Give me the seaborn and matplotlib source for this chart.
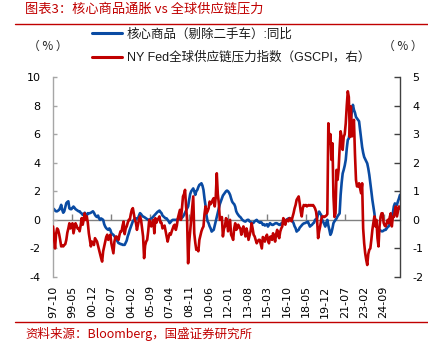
import numpy as np
import pandas as pd
import matplotlib
matplotlib.use("Agg")
import matplotlib.pyplot as plt
from matplotlib.lines import Line2D
import seaborn as sns

# ---------------- data (monthly, starting 1997-10) ----------------
core_goods = [
    0.8, 0.75, 0.65, 0.6, 0.6, 0.65, 0.7, 0.85, 1.05, 0.7, 0.5, 0.6,
    0.9, 1.17, 1.25, 1.3, 0.8, 0.75, 0.75, 0.85, 0.93, 0.85, 0.75, 0.7,
    0.65, 0.6, 0.6, 0.5, 0.45, 0.35, 0.4, 0.5, 0.1, 0.3, 0.47, 0.45,
    0.47, 0.5, 0.55, 0.6, 0.5, 0.35, 0.25, 0.2, 0.3, 0.1, 0.0, 0.1,
    0.05, 0.0, -0.3, -0.47, -0.58, -0.65, -0.7, -0.6, -0.7, -0.93, -1.0, -1.05,
    -1.15, -1.25, -1.4, -1.5, -1.63, -1.65, -1.7, -1.7, -1.75, -1.75, -1.75, -1.6,
    -1.45, -1.15, -0.95, -0.7, -0.5, -0.3, -0.1, 0.0, 0.1, 0.05, 0.1, 0.1,
    0.3, 0.47, 0.4, 0.3, 0.23, 0.2, 0.15, 0.1, 0.05, 0.0, 0.0, 0.05,
    0.1, 0.15, 0.23, 0.3, 0.4, 0.47, 0.55, 0.6, 0.65, 0.55, 0.47, 0.3,
    0.23, 0.15, 0.1, 0.1, 0.0, -0.1, -0.23, -0.15, -0.05, 0.0, 0.0, 0.0,
    0.0, 0.0, 0.05, 0.05, 0.05, 0.1, 0.15, 0.23, 0.35, 0.5, 0.65, 0.8,
    0.93, 1.4, 1.8, 2.0, 2.1, 2.2, 2.0, 1.75, 2.0, 2.1, 2.3, 2.45,
    2.5, 2.56, 2.4, 2.1, 1.5, 1.0, 0.3, -0.1, -0.23, -0.45, -0.6, -0.82,
    -0.75, -0.7, -0.4, -0.1, 0.23, 0.5, 0.8, 1.1, 1.3, 1.5, 1.7, 1.8,
    1.9, 2.0, 2.05, 2.0, 1.9, 1.75, 1.5, 1.28, 1.17, 1.1, 0.93, 0.6,
    0.45, 0.35, 0.25, 0.2, 0.1, 0.0, -0.05, -0.1, -0.12, -0.05, 0.0, 0.0,
    -0.1, -0.15, -0.2, -0.23, -0.2, -0.1, -0.05, 0.0, -0.1, -0.15, -0.2, -0.15,
    -0.2, -0.35, -0.3, -0.4, -0.35, -0.3, -0.47, -0.35, -0.23, -0.3, -0.35, -0.35,
    -0.3, -0.25, -0.23, -0.25, -0.3, -0.35, -0.35, -0.25, -0.2, -0.12, -0.1, -0.05,
    0.0, 0.05, 0.1, 0.12, 0.1, 0.0, -0.1, -0.23, -0.45, -0.58, -0.82, -0.75,
    -0.7, -0.55, -0.47, -0.4, -0.3, -0.25, -0.23, -0.2, -0.15, -0.12, -0.3, -0.47,
    -0.4, -0.35, -0.25, -0.2, 0.0, 0.05, 0.12, 0.4, 0.58, 0.45, 0.35, 0.0,
    -0.15, -0.3, -0.47, -0.2, 0.0, -0.4, -0.7, -1.05, -0.9, -0.6, -0.23, -0.1,
    0.0, 0.1, 0.25, 0.35, 0.45, 1.75, 2.6, 3.25, 3.5, 3.8, 4.2, 5.0,
    5.6, 5.7, 6.2, 7.0, 7.6, 8.05, 7.7, 7.5, 7.2, 7.1, 7.0, 6.9,
    6.3, 5.7, 5.1, 4.7, 4.4, 4.25, 4.1, 3.95, 3.6, 3.15, 2.6, 2.0,
    1.4, 0.9, 0.45, -0.25, -0.45, -0.6, -0.65, -0.7, -0.75, -0.8, -0.8, -0.75,
    -0.7, -0.7, -0.6, -0.5, -0.45, -0.3, -0.15, 0.0, 0.5, 0.95, 1.15, 1.1,
    1.05, 1.3, 1.5, 1.75,
]

gscpi = [
    -0.23, -0.6, -1.0, -0.5, -0.3, -0.35, -0.5, -0.7, -0.93, -0.9, -0.93, -0.88,
    -0.85, -0.7, -0.45, -0.3, -0.12, -0.3, -0.2, -0.12, -0.47, -0.3, -0.12, -0.2,
    -0.3, -0.3, -0.4, -0.2, 0.06, -0.17, 0.0, 0.23, 0.0, 0.12, -0.1, -0.47,
    -0.7, -0.93, -0.76, -0.8, -0.88, -0.64, -0.7, -0.76, -0.9, -1.05, -1.2, -1.34,
    -1.46, -1.1, -0.93, -0.76, -0.6, -0.52, -0.7, -0.6, -0.52, -0.82, -1.0, -1.17,
    -0.76, -0.6, -0.58, -0.65, -0.7, -0.52, -0.4, -0.4, -0.2, -0.06, -0.5, -0.3,
    -0.23, -0.1, 0.0, 0.0, 0.2, 0.35, 0.41, 0.2, 0.0, -0.1, -0.35, -0.17,
    0.0, 0.12, 0.0, -0.3, -0.58, -1.34, -0.9, -0.76, -0.7, -0.4, 0.0, -0.1,
    -0.23, -0.1, 0.0, -0.47, 0.06, -0.1, 0.0, 0.05, 0.12, -0.1, -0.1, -0.3,
    -0.25, -0.2, -0.4, -0.58, -0.76, -0.6, -0.47, -0.52, -0.4, -0.3, -0.2, -0.17,
    -0.35, -0.2, 0.06, 0.2, 0.35, 0.0, 0.4, 0.82, 0.9, 1.05, 0.47, 0.0,
    -1.52, -0.8, -0.4, 0.0, 0.4, 0.82, -0.47, -0.8, -1.05, -1.0, -1.1, -0.7,
    -0.55, -0.4, -0.3, -0.23, 0.2, 0.47, 0.23, 0.3, 0.4, 0.64, 0.55, 0.6,
    0.7, 0.76, 0.47, 0.8, 1.63, 0.9, 0.58, 0.0, 0.05, 0.1, -0.58, -0.3,
    -0.23, 0.06, 0.0, -0.4, -0.2, 0.0, -0.52, -0.6, -0.7, -0.3, -0.12, -0.35,
    -0.3, -0.17, -0.25, -0.3, -0.52, -0.35, -0.23, -0.4, -0.58, -0.3, -0.45, -0.7,
    -0.55, -0.4, -0.12, -0.3, -0.52, -0.58, -0.7, -0.82, -0.75, -0.7, -0.7, -0.85,
    -1.0, -0.6, -0.65, -0.76, -0.6, -0.52, -0.7, -0.82, -0.6, -0.58, -0.7, -0.47,
    -0.6, -0.76, -0.5, -0.35, -0.55, -0.64, -0.41, -0.3, -0.23, 0.06, -0.1, -0.17,
    0.0, 0.0, -0.05, 0.06, 0.0, -0.05, 0.1, 0.23, 0.4, 0.52, 0.7, 0.76,
    0.82, 0.58, 0.3, 0.12, 0.4, 0.52, 0.5, 0.52, 0.47, 0.5, 0.52, 0.5,
    0.52, 0.5, 0.52, 0.47, 0.4, 0.29, 0.0, -0.64, -0.4, -0.23, 0.0, 0.12,
    0.12, 0.1, 0.12, 0.15, 0.2, 3.38, 2.68, 3.0, 2.1, 2.68, 0.82, 0.1,
    0.23, 1.75, 1.4, 1.75, 2.5, 3.1, 2.9, 2.45, 2.9, 3.0, 3.38, 4.0,
    4.5, 4.3, 2.9, 3.97, 2.92, 3.3, 3.5, 2.3, 1.4, 1.17, 1.17, 1.28,
    1.1, 0.93, 1.28, -0.3, -0.82, -1.17, -1.4, -1.58, -1.2, -1.05, -1.0, -0.7,
    -0.35, -0.1, 0.12, -0.23, 0.0, -0.64, -0.93, -0.23, 0.1, 0.23, 0.23, -0.1,
    -0.2, -0.23, -0.12, 0.0, -0.12, 0.1, 0.23, -0.23, 0.1, 0.1, 0.3, 0.47,
    0.12, 0.3, 0.47, 0.41,
]

tick_labels = ["97-10", "99-05", "00-12", "02-07", "04-02", "05-09", "07-04",
               "08-11", "10-06", "12-01", "13-08", "15-03", "16-10", "18-05",
               "19-12", "21-07", "23-02", "24-09"]

left_ticks = [-4, -2, 0, 2, 4, 6, 8, 10]
right_ticks = [-2, -1, 0, 1, 2, 3, 4, 5]

series_names = ["核心商品（剔除二手车）:同比", "NY Fed全球供应链压力指数（GSCPI，右）"]
title_text = "图表3：核心商品通胀 vs 全球供应链压力"
source_text = "资料来源：Bloomberg，国盛证券研究所"
unit_text = "（ % ）"

# ---------------- build ----------------
dates = pd.date_range("1997-10-01", periods=len(core_goods), freq="MS")
df = pd.DataFrame({"idx": np.arange(len(dates)), "core": core_goods, "gscpi": gscpi})
label_dates = pd.to_datetime([("19" if t[0] == "9" else "20") + t for t in tick_labels],
                             format="%Y-%m")
tick_pos = dates.get_indexer(label_dates)

BLUE = "#0A4BA3"
RED = "#C00000"
GREY = "#A6A6A6"

sns.set_theme(style="white")
plt.rcParams["font.family"] = ["DejaVu Sans", "Noto Sans CJK SC"]
plt.rcParams["axes.unicode_minus"] = False

fig = plt.figure(figsize=(4.28, 3.46), dpi=100)
ax = fig.add_axes([53 / 428, 1 - 277 / 346, (400 - 53) / 428, 200 / 346])

sns.lineplot(data=df, x="idx", y="core", ax=ax, color=BLUE, linewidth=1.9,
             label=series_names[0], legend=False)
ax2 = ax.twinx()
sns.lineplot(data=df, x="idx", y="gscpi", ax=ax2, color=RED, linewidth=1.9,
             label=series_names[1], legend=False)

ymin, ymax = left_ticks[0], left_ticks[-1]
ax.set_ylim(ymin, ymax)
ax2.set_ylim(right_ticks[0], right_ticks[-1])
ax.set_xlim(df["idx"].iloc[0], df["idx"].iloc[-1])
ax.set_yticks(left_ticks)
ax2.set_yticks(right_ticks)
ax.set_xticks(tick_pos)
ax.set_xticklabels(tick_labels)
ax.set_xlabel("")
ax.set_ylabel("")
ax2.set_ylabel("")

for s in ["top", "right", "bottom"]:
    ax.spines[s].set_visible(False)
for s in ["top", "left", "bottom"]:
    ax2.spines[s].set_visible(False)
ax.spines["left"].set_color(GREY)
ax.spines["left"].set_linewidth(1.0)
ax2.spines["right"].set_color("#404040")
ax2.spines["right"].set_linewidth(1.0)

ax.tick_params(axis="y", direction="in", length=3, color=GREY, width=1,
               labelsize=8, pad=9, labelcolor="black", left=True)
ax2.tick_params(axis="y", direction="in", length=4, color="#404040", width=1,
                labelsize=8, pad=9, labelcolor="black", right=True)
ax.tick_params(axis="x", length=0, labelsize=8, labelrotation=90, pad=6,
               labelcolor="black")

# zero line with small upward tick marks
zero_frac = (0 - ymin) / (ymax - ymin)
sec = ax.secondary_xaxis(zero_frac)
sec.spines["bottom"].set_color("#808080")
sec.spines["bottom"].set_linewidth(1.0)
sec.set_xticks(tick_pos[1::2])
sec.tick_params(direction="in", length=4, color="#808080", width=1,
                labelbottom=False, bottom=True)

# legend
handles = [Line2D([], [], color=BLUE, lw=2.2), Line2D([], [], color=RED, lw=2.2)]
leg = fig.legend(handles, series_names, loc="upper left",
                 bbox_to_anchor=(92 / 428, 1 - 28 / 346), frameon=False,
                 prop={"family": ["Liberation Sans", "Noto Sans CJK SC"], "size": 9},
                 handlelength=2.4, handletextpad=0.4, labelspacing=0.9,
                 borderpad=0, borderaxespad=0)
for t in leg.get_texts():
    t.set_color("#1a1a1a")

# unit labels
fig.text(48 / 428, 1 - 46 / 346, unit_text, ha="center", va="center", fontsize=8.5,
         family=["Noto Sans CJK SC"])
fig.text(403 / 428, 1 - 46 / 346, unit_text, ha="center", va="center", fontsize=8.5,
         family=["Noto Sans CJK SC"])

# title and source
fig.text(25 / 428, 1 - 9 / 346, title_text, ha="left", va="center", fontsize=9.5,
         color=RED, style="italic", family=["Noto Sans CJK SC", "DejaVu Sans"])
fig.text(25 / 428, 1 - 334 / 346, source_text, ha="left", va="center", fontsize=9,
         color=RED, style="italic", family=["Noto Sans CJK SC", "DejaVu Sans"])
fig.add_artist(Line2D([15 / 428, 1.0], [1 - 24 / 346] * 2, color=RED, lw=1.0,
                      transform=fig.transFigure))
fig.add_artist(Line2D([15 / 428, 1.0], [1 - 322 / 346] * 2, color=RED, lw=1.0,
                      transform=fig.transFigure))

fig.savefig("out.png", dpi=100)
